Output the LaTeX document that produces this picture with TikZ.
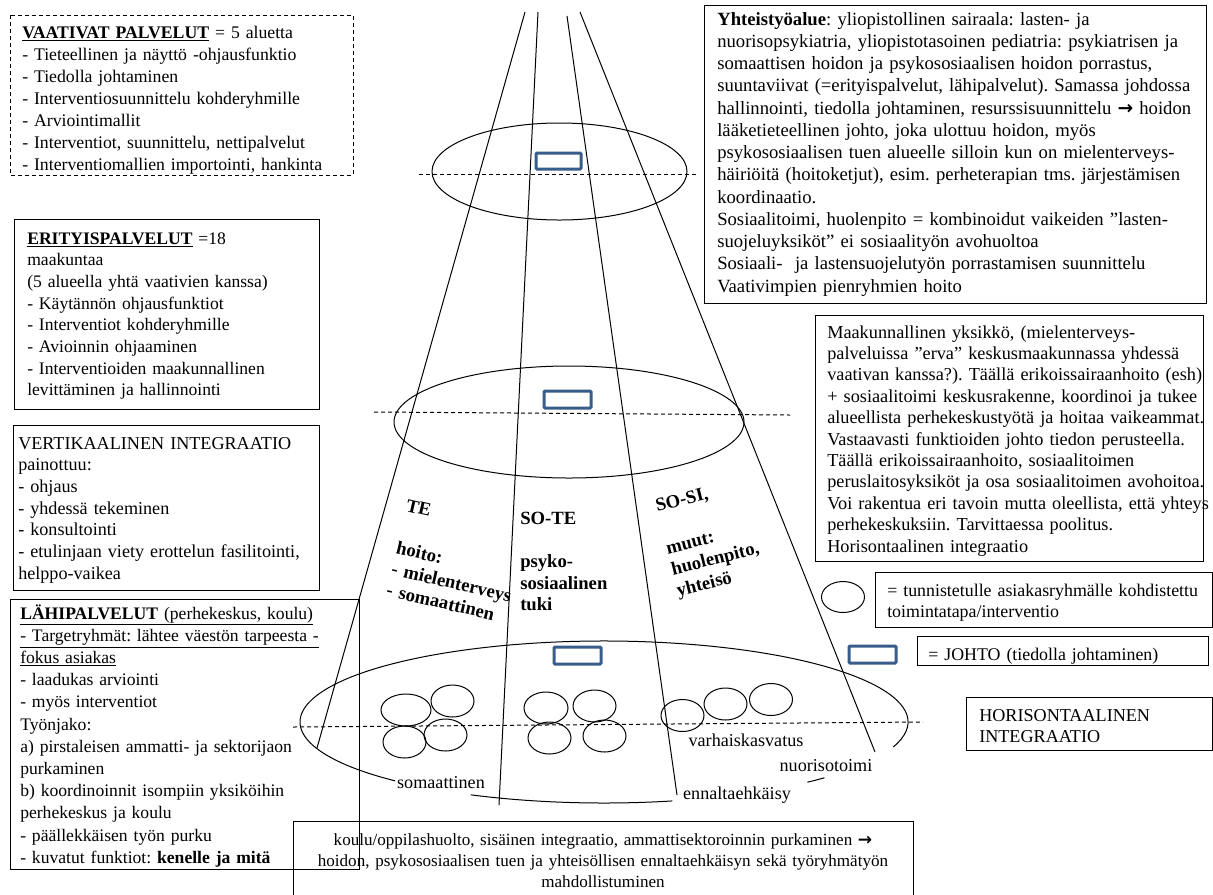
\documentclass[tikz,border=0pt]{standalone}
\usepackage{fontspec}
\usetikzlibrary{calc}
\setmainfont{Liberation Serif}
\newfontfamily\arrowfont{DejaVu Sans}
\definecolor{leadblue}{HTML}{385D8A}
\newcommand{\rarr}{{\arrowfont\bfseries →}}
\newcommand{\fs}[2]{\fontsize{#1}{#2}\selectfont}
\frenchspacing
\begin{document}
\begin{tikzpicture}[x=0.75pt,y=-0.75pt,
  every node/.style={inner sep=0pt},
  frame/.style={draw=black, line width=0.75pt},
  dframe/.style={draw=black, line width=0.75pt, dash pattern=on 3pt off 2.25pt},
  txt/.style={anchor=base west, align=left, text width=20cm, font=\fs{13.3}{16.1}},
  lbl/.style={font=\fs{13.6}{16.1}},
  conelabel/.style={anchor=base west, align=left, text width=5cm, font=\fs{14}{16.3}\bfseries},
  cone/.style={line width=0.75pt},
  level/.style={line width=0.75pt},
  split/.style={line width=0.75pt, dash pattern=on 3pt off 2.25pt},
  lead/.style={draw=leadblue, line width=2.25pt, fill=white, rounded corners=0.8pt},
  unit/.style={line width=0.75pt},
]
\fill[white] (0,0) rectangle (1213,894);
\useasboundingbox (0,0) rectangle (1213,894);

% ---------- cone: four guide lines ----------
\coordinate (t1) at (525,12);  \coordinate (b1) at (317,748);
\coordinate (t2) at (538,12);  \coordinate (b2) at (499,805);
\coordinate (t3) at (567,16);  \coordinate (b3) at (677,795);
\coordinate (t4) at (580,12);  \coordinate (b4) at (875,752);
\draw[cone] (t1) -- (b1);
\draw[cone] (t2) -- (b2);
\draw[cone] (t3) -- (b3);
\draw[cone] (t4) -- (b4);

% ---------- levels ----------
\draw[level] (559.5,171.5) ellipse [x radius=127.5, y radius=48.5];
\draw[split] (419,174) -- (697,174);
\draw[lead] (536,153) rectangle (581,169);

\draw[level] (569,422) ellipse [x radius=175, y radius=56];
\draw[split] (374,412) -- (790,415);
\draw[lead] (544,391) rectangle (591,408);

% bottom level, open where labels sit
\coordinate (lc) at (604,722);
\draw[level] ($(lc)+(18:304 and 81)$) arc[start angle=18, end angle=-226.6, x radius=304, y radius=81];
\draw[level] ($(lc)+(116:304 and 81)$) arc[start angle=116, end angle=77, x radius=304, y radius=81];
\draw[level] ($(lc)+(48:304 and 81)$) arc[start angle=48, end angle=43.5, x radius=304, y radius=81];
\draw[split] (293,727) -- (923,722);
\draw[lead] (554,647) rectangle (601,664);

% interventions
\foreach \cx/\cy/\rx in {406/710/25, 452.5/701/21.5, 404.5/742/21.5, 445.5/735/21.5,
                     546/708/22, 594.5/706/21.5, 549.5/738/21.5, 604.5/736/21.5,
                     682.5/715.5/21.5, 725.5/704/21.5, 771/699.5/21.5}
  \draw[unit] (\cx,\cy) ellipse [x radius=\rx, y radius=16];

% labels in the bottom level
\node[lbl] (somaattinen) at (441,783) {somaattinen};
\node[lbl] (ennalta) at (737,795) {ennaltaehkäisy};
\node[lbl] (varhais) at (746,740) {varhaiskasvatus};
\node[lbl] (nuoriso) at (826,766) {nuorisotoimi};

% ---------- sector labels in the cone ----------
\node[conelabel, rotate=-13] (te) at (405,511) {TE\\[16.3pt]hoito:\\- mielenterveys\\- somaattinen};
\node[conelabel] (sote) at (520,524) {SO-TE\\[16.3pt]psyko-\\sosiaalinen\\tuki};
\node[conelabel, rotate=14] (sosi) at (657,512) {SO-SI,\\[16.3pt]muut:\\huolenpito,\\yhteisö};

% ---------- text boxes, left ----------
\draw[dframe] (10,15) rectangle (353,175);
\node[txt, font=\fs{13.3}{16.5}] (vaativat) at (22,38)
 {\underline{\textbf{VAATIVAT PALVELUT}} = 5 aluetta\\
  - Tieteellinen ja näyttö -ohjausfunktio\\
  - Tiedolla johtaminen\\
  - Interventiosuunnittelu kohderyhmille\\
  - Arviointimallit\\
  - Interventiot, suunnittelu, nettipalvelut\\
  - Interventiomallien importointi, hankinta};

\draw[frame] (14,219) rectangle (319,409);
\node[txt, font=\fs{13.2}{16.25}] (erityis) at (27,244)
 {\underline{\textbf{ERITYISPALVELUT}} =18\\
  maakuntaa\\
  (5 alueella yhtä vaativien kanssa)\\
  - Käytännön ohjausfunktiot\\
  - Interventiot kohderyhmille\\
  - Avioinnin ohjaaminen\\
  - Interventioiden maakunnallinen\\
  levittäminen ja hallinnointi};

\draw[frame] (13,425) rectangle (319,590);
\node[txt, font=\fs{13.6}{16.3}] (vertikaali) at (18,449)
 {VERTIKAALINEN INTEGRAATIO\\
  painottuu:\\
  - ohjaus\\
  - yhdessä tekeminen\\
  - konsultointi\\
  - etulinjaan viety erottelun fasilitointi,\\
  helppo-vaikea};

\draw[frame] (10,599) rectangle (359,869);
\node[txt, font=\fs{13.2}{16.65}] (lahi) at (20,619)
 {\underline{\textbf{LÄHIPALVELUT} (perhekeskus, koulu)}\\
  \underline{- Targetryhmät: lähtee väestön tarpeesta -}\\
  \underline{fokus asiakas}\\
  - laadukas arviointi\\
  - myös interventiot\\
  Työnjako:\\
  a) pirstaleisen ammatti- ja sektorijaon\\
  purkaminen\\
  b) koordinoinnit isompiin yksiköihin\\
  perhekeskus ja koulu\\
  - päällekkäisen työn purku\\
  - kuvatut funktiot: \textbf{kenelle ja mitä}};

% ---------- text boxes, right ----------
\draw[frame] (704,5) rectangle (1206,303);
\node[txt, font=\fs{14}{16.7}] (yhteistyo) at (717,25)
 {\textbf{Yhteistyöalue}: yliopistollinen sairaala: lasten- ja\\
  nuorisopsykiatria, yliopistotasoinen pediatria: psykiatrisen ja\\
  somaattisen hoidon ja psykososiaalisen hoidon porrastus,\\
  suuntaviivat (=erityispalvelut, lähipalvelut). Samassa johdossa\\
  hallinnointi, tiedolla johtaminen, resurssisuunnittelu \rarr{} hoidon\\
  lääketieteellinen johto, joka ulottuu hoidon, myös\\
  psykososiaalisen tuen alueelle silloin kun on mielenterveys-\\
  häiriöitä (hoitoketjut), esim. perheterapian tms. järjestämisen\\
  koordinaatio.\\
  Sosiaalitoimi, huolenpito = kombinoidut vaikeiden ”lasten-\\
  suojeluyksiköt” ei sosiaalityön avohuoltoa\\
  Sosiaali-\ \ ja lastensuojelutyön porrastamisen suunnittelu\\
  Vaativimpien pienryhmien hoito};

\draw[frame] (815,315) rectangle (1203,561);
\node[txt, font=\fs{13.7}{16.05}] (maakunta) at (827,338)
 {Maakunnallinen yksikkö, (mielenterveys-\\
  palveluissa ”erva” keskusmaakunnassa yhdessä\\
  vaativan kanssa?). Täällä erikoissairaanhoito (esh)\\
  + sosiaalitoimi keskusrakenne, koordinoi ja tukee\\
  alueellista perhekeskustyötä ja hoitaa vaikeammat.\\
  Vastaavasti funktioiden johto tiedon perusteella.\\
  Täällä erikoissairaanhoito, sosiaalitoimen\\
  peruslaitosyksiköt ja osa sosiaalitoimen avohoitoa.\\
  Voi rakentua eri tavoin mutta oleellista, että yhteys\\
  perhekeskuksiin. Tarvittaessa poolitus.\\
  Horisontaalinen integraatio};

% legend
\draw[unit] (843,597) ellipse [x radius=21.5, y radius=15.5];
\draw[frame] (875,572) rectangle (1212,627);
\node[txt, font=\fs{13.4}{16.1}] (tunnistettu) at (887,596)
 {= tunnistetulle asiakasryhmälle kohdistettu\\
  toimintatapa/interventio};

\draw[lead] (849,646) rectangle (896,663);
\draw[frame] (917,636) rectangle (1208,665);
\node[txt, font=\fs{13.4}{16.1}] (johto) at (928,660) {= JOHTO (tiedolla johtaminen)};

\draw[frame] (966,697) rectangle (1212,750);
\node[txt, font=\fs{13.6}{16.1}] (horisontaali) at (979,721) {HORISONTAALINEN\\INTEGRAATIO};

% bottom box
\draw[frame] (293,821) rectangle (913,900);
\node[anchor=base, align=center, text width=800pt, font=\fs{12.8}{16.1}] (koulu) at (603,845)
 {koulu/oppilashuolto, sisäinen integraatio, ammattisektoroinnin purkaminen \rarr\\
  hoidon, psykososiaalisen tuen ja yhteisöllisen ennaltaehkäisyn sekä työryhmätyön\\
  mahdollistuminen};
\end{tikzpicture}
\end{document}
